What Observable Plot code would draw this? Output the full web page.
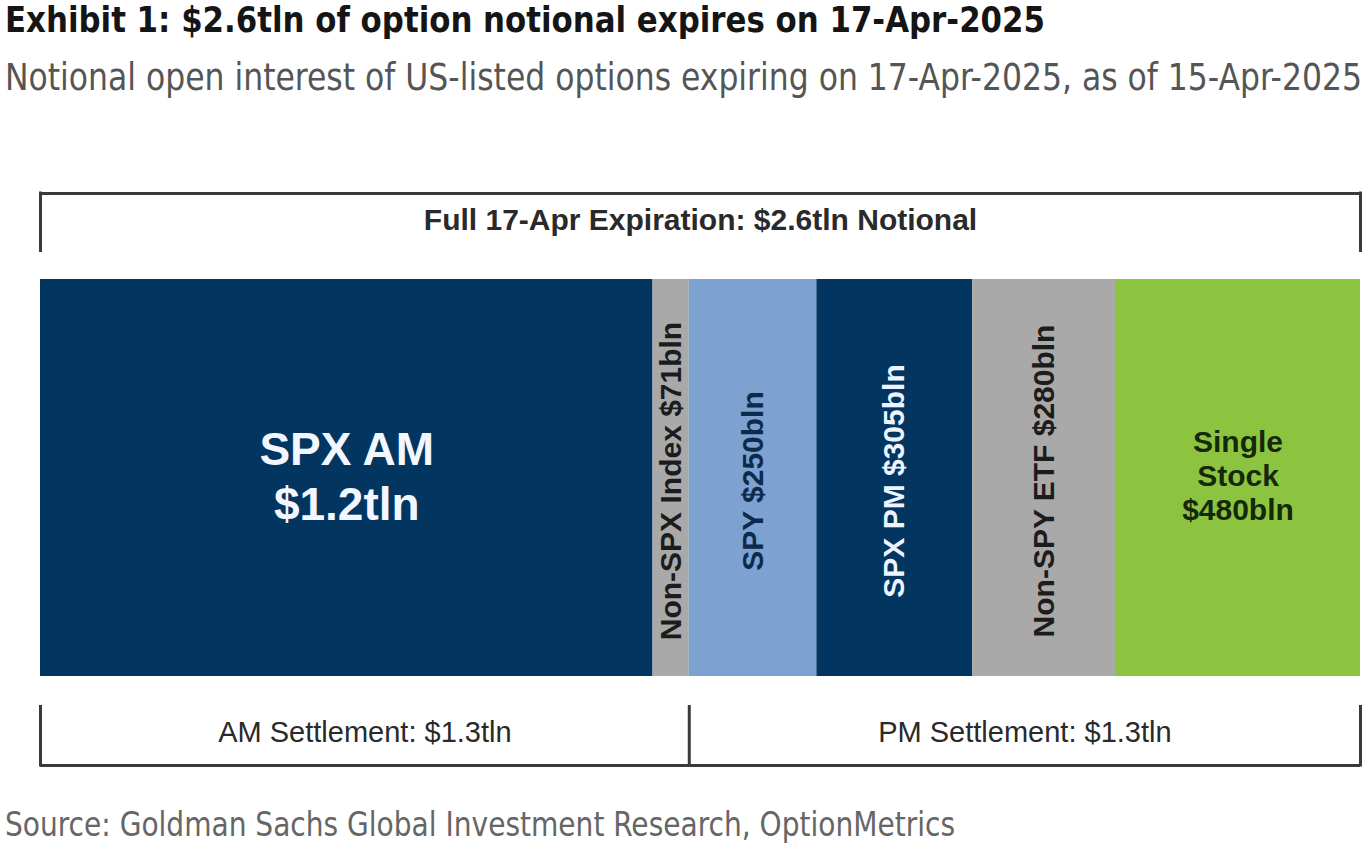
<!DOCTYPE html>
<html>
<head>
<meta charset="utf-8">
<script src="https://cdn.jsdelivr.net/npm/d3@7"></script>
<script src="https://cdn.jsdelivr.net/npm/@observablehq/plot@0.6"></script>
<style>
  html, body { margin: 0; padding: 0; background: #ffffff; }
  body { width: 1370px; height: 848px; position: relative; overflow: hidden; }
  .hdr { position: absolute; left: 5px; font-family: "DejaVu Sans Condensed", "DejaVu Sans", sans-serif; line-height: 1; white-space: nowrap; transform-origin: 0 0; display: inline-block; }
  .title { top: 3px; font-weight: bold; font-size: 35px; color: #151515; }
  .subtitle { top: 59px; font-size: 37px; color: #555555; }
  .source { top: 808px; font-size: 33px; color: #666666; }
  #chart { position: absolute; left: 0; top: 150px; }
</style>
</head>
<body>
<div class="hdr title" data-w="1040">Exhibit 1: $2.6tln of option notional expires on 17-Apr-2025</div>
<div class="hdr subtitle" data-w="1357">Notional open interest of US-listed options expiring on 17-Apr-2025, as of 15-Apr-2025</div>
<div id="chart"></div>
<div class="hdr source" data-w="950">Source: Goldman Sachs Global Investment Research, OptionMetrics</div>
<script>
// ---- data ----
const categories = ["SPX AM", "Non-SPX Index", "SPY", "SPX PM", "Non-SPY ETF", "Single Stock"];
const values = [1200, 71, 250, 305, 280, 480]; // $bln
const labels = ["SPX AM\n$1.2tln", "Non-SPX Index $71bln", "SPY $250bln", "SPX PM $305bln", "Non-SPY ETF $280bln", "Single\nStock\n$480bln"];
const settlement = ["AM", "AM", "PM", "PM", "PM", "PM"];
const fullLabel = "Full 17-Apr Expiration: $2.6tln Notional";
const settlementLabels = ["AM Settlement: $1.3tln", "PM Settlement: $1.3tln"];

// ---- styles ----
const palette = ["#02355f", "#a9a9a9", "#7da1d0", "#02355f", "#a9a9a9", "#8cc43f"];
const textColors = ["#f2f6ff", "#1c1c1c", "#0c2a4c", "#eef4ff", "#1c1c1c", "#15280b"];

// ---- derived table ----
const total = d3.sum(values);
const ends = d3.cumsum(values);
const rows = categories.map((c, i) => ({
  category: c,
  value: values[i],
  x1: ends[i] - values[i],
  x2: ends[i],
  label: labels[i],
  settlement: settlement[i],
  textColor: textColors[i]
}));
const amTotal = d3.sum(rows.filter(d => d.settlement === "AM"), d => d.value);
const groups = [
  {label: settlementLabels[0], x1: 0, x2: amTotal},
  {label: settlementLabels[1], x1: amTotal, x2: total}
];

// ---- layout (svg pixels) ----
const H = 640;
const topLineY = 43, topTickEnd = 102, fullTextY = 70;
const barTop = 129, barBottom = 526, barMid = (barTop + barBottom) / 2;
const botTickStart = 555, botLineY = 615, settleTextY = 582;

const vertical = rows.filter(d => !(d.category === "SPX AM" || d.category === "Single Stock"));

const chart = Plot.plot({
  width: 1370,
  height: H,
  marginLeft: 40,
  marginRight: 10,
  marginTop: 0,
  marginBottom: 0,
  style: {fontFamily: "'Liberation Sans', Arial, sans-serif", background: "transparent"},
  x: {domain: [0, total], axis: null},
  y: {domain: [0, H], range: [0, H], axis: null},
  color: {domain: categories, range: palette},
  marks: [
    // segments
    Plot.rect(rows, {x1: "x1", x2: "x2", y1: () => barTop, y2: () => barBottom, fill: "category"}),
    // horizontal labels
    Plot.text(rows.filter(d => d.category === "SPX AM"), {
      x: d => (d.x1 + d.x2) / 2, y: () => barMid - 3, text: "label",
      fill: "textColor", fontSize: 46, fontWeight: "bold", lineHeight: 1.2
    }),
    Plot.text(rows.filter(d => d.category === "Single Stock"), {
      x: d => (d.x1 + d.x2) / 2, y: () => barMid - 3, text: "label",
      fill: "textColor", fontSize: 30, fontWeight: "bold", lineHeight: 1.13
    }),
    // vertical labels
    Plot.text(vertical, {
      x: d => (d.x1 + d.x2) / 2, y: () => barMid + 3, text: "label",
      fill: "textColor", fontSize: 30, fontWeight: "bold", rotate: -90
    }),
    // top bracket
    Plot.ruleY([total], {x1: 0, x2: d => d, y: () => topLineY, stroke: "#3a3a3a", strokeWidth: 3}),
    Plot.ruleX([0, total], {x: d => d, y1: () => topLineY - 1.5, y2: () => topTickEnd, stroke: "#3a3a3a", strokeWidth: 3}),
    Plot.text([fullLabel], {x: () => total / 2, y: () => fullTextY, text: d => d, fontSize: 30, fontWeight: "bold", fill: "#2a2a2a"}),
    // bottom bracket
    Plot.ruleX([0, amTotal, total], {x: d => d, y1: () => botTickStart, y2: () => botLineY + 1.5, stroke: "#3a3a3a", strokeWidth: 3}),
    Plot.ruleY([total], {x1: 0, x2: d => d, y: () => botLineY, stroke: "#3a3a3a", strokeWidth: 3}),
    Plot.text(groups, {x: d => (d.x1 + d.x2) / 2, y: () => settleTextY, text: "label", fontSize: 29, fill: "#2a2a2a"})
  ]
});
document.getElementById("chart").appendChild(chart);

// fit header texts horizontally to the reference widths
document.querySelectorAll(".hdr").forEach(el => {
  const target = +el.dataset.w;
  const w = el.getBoundingClientRect().width;
  if (w > 0) el.style.transform = `scaleX(${target / w})`;
});
</script>
</body>
</html>
